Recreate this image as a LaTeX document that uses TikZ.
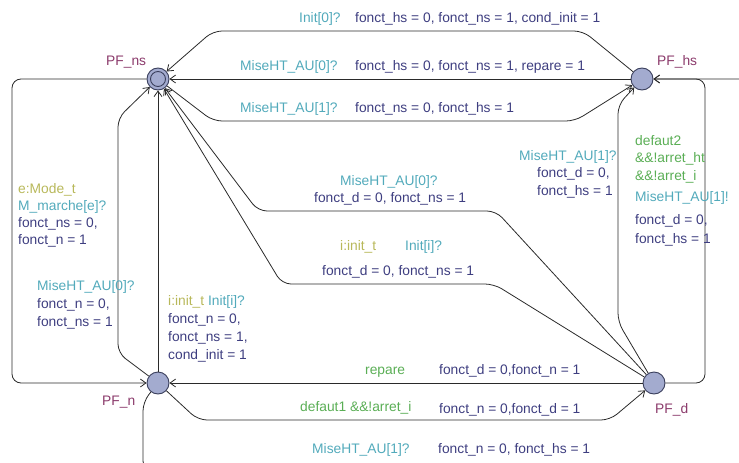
\documentclass[tikz,border=0pt]{standalone}
\usepackage{fontspec}
\setmainfont{Liberation Sans}
\usetikzlibrary{arrows.meta}
\definecolor{locfill}{HTML}{A3ABCF}
\definecolor{locline}{HTML}{3A3F5C}
\definecolor{locname}{HTML}{8B3A6B}
\definecolor{synccol}{HTML}{52AABB}
\definecolor{assigncol}{HTML}{3E3E80}
\definecolor{guardcol}{HTML}{5AAE55}
\definecolor{selectcol}{HTML}{B8B85A}
\definecolor{edgecol}{HTML}{2A2A2A}
\tikzset{
  loc/.style={circle, draw=locline, fill=locfill, line width=0.9pt,
    minimum size=22pt, inner sep=0pt},
  trans/.style={draw=edgecol, line width=0.8pt, rounded corners=9pt,
    -{Straight Barb[length=5.5pt,width=8pt]}},
  lbl/.style={anchor=base west, inner sep=0pt,
    font=\fontsize{13.8}{16}\selectfont},
  lname/.style={lbl, text=locname},
  lsync/.style={lbl, text=synccol},
  lassign/.style={lbl, text=assigncol},
  lguard/.style={lbl, text=guardcol},
  lselect/.style={lbl, text=selectcol},
}

\begin{document}
\begin{tikzpicture}[x=1pt, y=-1pt]
\useasboundingbox (0,0) rectangle (739,463);
% locations of the automaton
\node[loc] (pfns) at (158,79) {};
\node[loc] (pfhs) at (642,79) {};
\node[loc] (pfn) at (158,383) {};
\node[loc] (pfd) at (654,383) {};
\draw[locline, line width=0.9pt] (pfns.center) circle (7.5pt);
\node[lname] (nns) at (106,65) {PF\_ns};
\node[lname] (nhs) at (657,65) {PF\_hs};
\node[lname] (nn) at (102,405) {PF\_n};
\node[lname] (nd) at (655,413) {PF\_d};

% transitions into PF_ns
\draw[trans] (pfhs) -- (583,31) -- (213,31) -- (pfns);
\draw[trans] (pfhs) -- (pfns);
\draw[trans] (pfn) -- (118,353) -- (118,118) -- (pfns);
\draw[trans] (pfn) -- (pfns);
\draw[trans] (pfd) -- (496,211) -- (258,211) -- (pfns);
\draw[trans] (pfd) -- (494,284) -- (282,284) -- (pfns);
% transitions into PF_hs
\draw[trans] (pfns) -- (213,121) -- (575,121) -- (pfhs);
\draw[trans] (pfd) -- (618,322) -- (618,105) -- (pfhs);
\draw[trans] (pfd) -- (705,383) -- (705,79) -- (pfhs);
\begin{scope}
\clip (0,0) rectangle (739,463);
\draw[trans] (pfn) -- (143,402) -- (143,470) -- (760,470) -- (760,79)
  -- (pfhs);
\end{scope}
% transitions into PF_n and PF_d
\draw[trans] (pfns) -- (12,79) -- (12,383) -- (pfn);
\draw[trans] (pfd) -- (pfn);
\draw[trans] (pfn) -- (198,420) -- (610,420) -- (pfd);

% labels along the top
\node[lsync] (s1) at (299,22) {Init[0]?};
\node[lassign] (a1) at (355,22) {fonct\_hs = 0, fonct\_ns = 1, cond\_init = 1};
\node[lsync] (s2) at (240,70) {MiseHT\_AU[0]?};
\node[lassign] (a2) at (355,70) {fonct\_hs = 0, fonct\_ns = 1, repare = 1};
\node[lsync] (s3) at (240,112) {MiseHT\_AU[1]?};
\node[lassign] (a3) at (355,112) {fonct\_ns = 0, fonct\_hs = 1};

% labels on the left
\node[lselect] (e4) at (18,193) {e:Mode\_t};
\node[lsync] (s4) at (18,210) {M\_marche[e]?};
\node[lassign] (a4) at (18,227) {fonct\_ns = 0,};
\node[lassign] (b4) at (18,244) {fonct\_n = 1};
\node[lsync] (s5) at (37,290) {MiseHT\_AU[0]?};
\node[lassign] (a5) at (37,308) {fonct\_n = 0,};
\node[lassign] (b5) at (37,326) {fonct\_ns = 1};
\node[lbl] (s6) at (168,305)
  {\textcolor{selectcol}{i:init\_t} \textcolor{synccol}{Init[i]?}};
\node[lassign] (a6) at (168,323) {fonct\_n = 0,};
\node[lassign] (b6) at (168,341) {fonct\_ns = 1,};
\node[lassign] (c6) at (168,359) {cond\_init = 1};

% labels in the middle
\node[lsync] (s7) at (340,185) {MiseHT\_AU[0]?};
\node[lassign] (a7) at (314,202) {fonct\_d = 0, fonct\_ns = 1};
\node[lselect] (e8) at (340,250) {i:init\_t};
\node[lsync] (s8) at (405,250) {Init[i]?};
\node[lassign] (a8) at (322,275) {fonct\_d = 0, fonct\_ns = 1};

% labels on the right
\node[lsync] (s9) at (519,160) {MiseHT\_AU[1]?};
\node[lassign] (a9) at (537,177) {fonct\_d = 0,};
\node[lassign] (b9) at (537,195) {fonct\_hs = 1};
\node[lguard] (g10) at (635,145) {defaut2};
\node[lguard] (h10) at (635,162) {\&\&!arret\_ht};
\node[lguard] (i10) at (635,180) {\&\&!arret\_i};
\node[lsync] (s10) at (635,201) {MiseHT\_AU[1]!};
\node[lassign] (a10) at (635,224) {fonct\_d = 0,};
\node[lassign] (b10) at (635,243) {fonct\_hs = 1};

% labels along the bottom
\node[lguard] (g11) at (365,374) {repare};
\node[lassign] (a11) at (439,374) {fonct\_d = 0,fonct\_n = 1};
\node[lguard] (g12) at (300,411) {defaut1 \&\&!arret\_i};
\node[lassign] (a12) at (439,413) {fonct\_n = 0,fonct\_d = 1};
\node[lsync] (s13) at (312,453) {MiseHT\_AU[1]?};
\node[lassign] (a13) at (438,453) {fonct\_n = 0, fonct\_hs = 1};
\end{tikzpicture}
\end{document}
